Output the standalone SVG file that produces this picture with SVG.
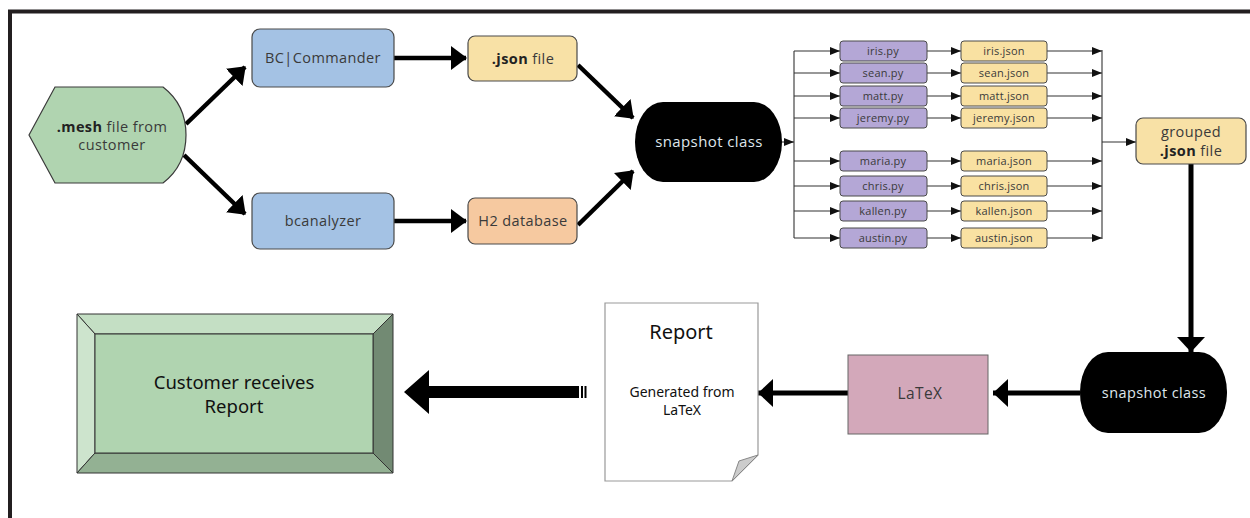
<svg xmlns="http://www.w3.org/2000/svg" width="1250" height="518" viewBox="0 0 1250 518">
<style>
  .t{font-family:"Open Sans","Liberation Sans",sans-serif;fill:#3a3a3a;text-anchor:middle;letter-spacing:0.4px}
  .n{font-family:"Noto Sans","Liberation Sans",sans-serif;fill:#111;text-anchor:middle}
  .s{font-size:11px;letter-spacing:0.2px}
  .box{stroke:#4a4a4a;stroke-width:1.2}
  .thick{stroke:#000;stroke-width:4.5;fill:none}
  .thin{stroke:#333;stroke-width:1.1;fill:none}
  .py{fill:#b4a7d6;stroke:#4a4a4a;stroke-width:1}
  .js{fill:#f9e1a2;stroke:#4a4a4a;stroke-width:1}
</style>
<defs>
  <marker id="big" markerUnits="userSpaceOnUse" markerWidth="16" markerHeight="24" refX="15" refY="12" orient="auto">
    <path d="M0,0 L16,12 L0,24 z" fill="#000"/>
  </marker>
  <marker id="wide" markerUnits="userSpaceOnUse" markerWidth="15" markerHeight="28" refX="15" refY="14" orient="auto">
    <path d="M0,0 L15,14 L0,28 z" fill="#000"/>
  </marker>
  <marker id="sm" markerUnits="userSpaceOnUse" markerWidth="10" markerHeight="8" refX="10" refY="4" orient="auto">
    <path d="M0,0 L10,4 L0,8 z" fill="#111"/>
  </marker>
</defs>
<rect width="1250" height="518" fill="#fff"/>
<path d="M10,518 V11.5 H1250" fill="none" stroke="#231f20" stroke-width="4"/>

<g id="connectors">
  <line class="thick" x1="186" y1="124" x2="245" y2="67" marker-end="url(#big)"/>
  <line class="thick" x1="184" y1="155" x2="245" y2="214" marker-end="url(#big)"/>
  <line class="thick" x1="394" y1="58" x2="466" y2="58" marker-end="url(#big)"/>
  <line class="thick" x1="394" y1="221" x2="466" y2="221" marker-end="url(#big)"/>
  <line class="thick" x1="578" y1="65" x2="633" y2="118" marker-end="url(#big)"/>
  <line class="thick" x1="578" y1="225" x2="633" y2="171" marker-end="url(#big)"/>
  <line class="thin" x1="782" y1="142" x2="794" y2="142" marker-end="url(#sm)"/>
  <line class="thin" x1="794" y1="51" x2="794" y2="238"/>
  <line class="thin" x1="794" y1="51" x2="840" y2="51" marker-end="url(#sm)"/>
  <line class="thin" x1="794" y1="73" x2="840" y2="73" marker-end="url(#sm)"/>
  <line class="thin" x1="794" y1="96" x2="840" y2="96" marker-end="url(#sm)"/>
  <line class="thin" x1="794" y1="118" x2="840" y2="118" marker-end="url(#sm)"/>
  <line class="thin" x1="794" y1="161" x2="840" y2="161" marker-end="url(#sm)"/>
  <line class="thin" x1="794" y1="186" x2="840" y2="186" marker-end="url(#sm)"/>
  <line class="thin" x1="794" y1="211" x2="840" y2="211" marker-end="url(#sm)"/>
  <line class="thin" x1="794" y1="238" x2="840" y2="238" marker-end="url(#sm)"/>
  <line class="thin" x1="927" y1="51" x2="961" y2="51" marker-end="url(#sm)"/>
  <line class="thin" x1="927" y1="73" x2="961" y2="73" marker-end="url(#sm)"/>
  <line class="thin" x1="927" y1="96" x2="961" y2="96" marker-end="url(#sm)"/>
  <line class="thin" x1="927" y1="118" x2="961" y2="118" marker-end="url(#sm)"/>
  <line class="thin" x1="927" y1="161" x2="961" y2="161" marker-end="url(#sm)"/>
  <line class="thin" x1="927" y1="186" x2="961" y2="186" marker-end="url(#sm)"/>
  <line class="thin" x1="927" y1="211" x2="961" y2="211" marker-end="url(#sm)"/>
  <line class="thin" x1="927" y1="238" x2="961" y2="238" marker-end="url(#sm)"/>
  <line class="thin" x1="1047" y1="51" x2="1102" y2="51" marker-end="url(#sm)"/>
  <line class="thin" x1="1047" y1="73" x2="1102" y2="73" marker-end="url(#sm)"/>
  <line class="thin" x1="1047" y1="96" x2="1102" y2="96" marker-end="url(#sm)"/>
  <line class="thin" x1="1047" y1="118" x2="1102" y2="118" marker-end="url(#sm)"/>
  <line class="thin" x1="1047" y1="161" x2="1102" y2="161" marker-end="url(#sm)"/>
  <line class="thin" x1="1047" y1="186" x2="1102" y2="186" marker-end="url(#sm)"/>
  <line class="thin" x1="1047" y1="211" x2="1102" y2="211" marker-end="url(#sm)"/>
  <line class="thin" x1="1047" y1="238" x2="1102" y2="238" marker-end="url(#sm)"/>
  <line class="thin" x1="1102" y1="50" x2="1102" y2="239"/>
  <line class="thin" x1="1102" y1="142" x2="1136" y2="142" marker-end="url(#sm)"/>
  <line x1="1191" y1="164" x2="1191" y2="352" stroke="#000" stroke-width="5" marker-end="url(#wide)"/>
  <line x1="1080" y1="393" x2="993" y2="393" stroke="#000" stroke-width="5" marker-end="url(#wide)"/>
  <line x1="848" y1="393" x2="758" y2="393" stroke="#000" stroke-width="5" marker-end="url(#wide)"/>
  <g id="big-arrow" fill="#000">
    <polygon points="404,392 429,370 429,386 579,386 579,398 429,398 429,414"/>
    <rect x="581" y="386" width="2" height="12"/>
    <rect x="584.5" y="386" width="2" height="12"/>
  </g>
</g>

<g id="mesh">
  <path d="M29,135 L55,87 H163 C180,100 186,118 186,135 C186,152 180,170 163,183 H55 Z" fill="#b0d4b0" stroke="#3a3a3a" stroke-width="1.2"/>
  <text class="t" x="112" y="132" font-size="14.5"><tspan font-weight="bold" fill="#222">.mesh</tspan> file from</text>
  <text class="t" x="112" y="150" font-size="14.5">customer</text>
</g>
<g id="bccommander">
  <rect class="box" x="252" y="29" width="142" height="58" rx="8" fill="#a4c2e4"/>
  <text class="t" x="323" y="63" font-size="14.5">BC|Commander</text>
</g>
<g id="bcanalyzer">
  <rect class="box" x="252" y="193" width="142" height="56" rx="8" fill="#a4c2e4"/>
  <text class="t" x="323" y="226" font-size="14.5">bcanalyzer</text>
</g>
<g id="jsonfile">
  <rect class="box" x="468" y="36" width="109" height="45" rx="7" fill="#f8e1a6"/>
  <text class="t" x="523" y="64" font-size="14.5"><tspan font-weight="bold" fill="#222">.json</tspan> file</text>
</g>
<g id="h2">
  <rect class="box" x="468" y="198" width="109" height="46" rx="7" fill="#f6c9a0"/>
  <text class="t" x="523" y="226" font-size="14.5">H2 database</text>
</g>
<g id="snapshot1">
  <rect x="635" y="102" width="147" height="80" rx="28" ry="40" fill="#000"/>
  <text class="t" x="709" y="147" font-size="15" style="fill:#dfe6ec">snapshot class</text>
</g>

<g id="py-scripts">
  <g id="iris-py"><rect class="py" x="840" y="41" width="87" height="20" rx="3"/><text class="t s" x="883" y="55">iris.py</text></g>
  <g id="sean-py"><rect class="py" x="840" y="63" width="87" height="20" rx="3"/><text class="t s" x="883" y="77">sean.py</text></g>
  <g id="matt-py"><rect class="py" x="840" y="86" width="87" height="20" rx="3"/><text class="t s" x="883" y="100">matt.py</text></g>
  <g id="jeremy-py"><rect class="py" x="840" y="108" width="87" height="20" rx="3"/><text class="t s" x="883" y="122">jeremy.py</text></g>
  <g id="maria-py"><rect class="py" x="840" y="151" width="87" height="20" rx="3"/><text class="t s" x="883" y="165">maria.py</text></g>
  <g id="chris-py"><rect class="py" x="840" y="176" width="87" height="20" rx="3"/><text class="t s" x="883" y="190">chris.py</text></g>
  <g id="kallen-py"><rect class="py" x="840" y="201" width="87" height="20" rx="3"/><text class="t s" x="883" y="215">kallen.py</text></g>
  <g id="austin-py"><rect class="py" x="840" y="228" width="87" height="20" rx="3"/><text class="t s" x="883" y="242">austin.py</text></g>
</g>
<g id="json-files">
  <g id="iris-json"><rect class="js" x="961" y="41" width="86" height="20" rx="3"/><text class="t s" x="1004" y="55">iris.json</text></g>
  <g id="sean-json"><rect class="js" x="961" y="63" width="86" height="20" rx="3"/><text class="t s" x="1004" y="77">sean.json</text></g>
  <g id="matt-json"><rect class="js" x="961" y="86" width="86" height="20" rx="3"/><text class="t s" x="1004" y="100">matt.json</text></g>
  <g id="jeremy-json"><rect class="js" x="961" y="108" width="86" height="20" rx="3"/><text class="t s" x="1004" y="122">jeremy.json</text></g>
  <g id="maria-json"><rect class="js" x="961" y="151" width="86" height="20" rx="3"/><text class="t s" x="1004" y="165">maria.json</text></g>
  <g id="chris-json"><rect class="js" x="961" y="176" width="86" height="20" rx="3"/><text class="t s" x="1004" y="190">chris.json</text></g>
  <g id="kallen-json"><rect class="js" x="961" y="201" width="86" height="20" rx="3"/><text class="t s" x="1004" y="215">kallen.json</text></g>
  <g id="austin-json"><rect class="js" x="961" y="228" width="86" height="20" rx="3"/><text class="t s" x="1004" y="242">austin.json</text></g>
</g>

<g id="grouped">
  <rect class="box" x="1136" y="118" width="110" height="46" rx="7" fill="#f8e1a6"/>
  <text class="t" x="1191" y="137" font-size="14.5">grouped</text>
  <text class="t" x="1191" y="156" font-size="14.5"><tspan font-weight="bold" fill="#222">.json</tspan> file</text>
</g>
<g id="snapshot2">
  <rect x="1080" y="352" width="147" height="81" rx="28" ry="40" fill="#000"/>
  <text class="t" x="1154" y="398" font-size="14.5" style="fill:#dfe6ec">snapshot class</text>
</g>
<g id="latex">
  <rect x="848" y="355" width="140" height="79" fill="#d3a8ba" stroke="#666" stroke-width="1"/>
  <text class="t" x="920" y="399" font-size="15.5">LaTeX</text>
</g>
<g id="report">
  <path d="M605,303 H758 V455 L732,481 H605 Z" fill="#fff" stroke="#999" stroke-width="1.2"/>
  <polygon points="758,455 732,481 739,461" fill="#ccc" stroke="#888" stroke-width="1"/>
  <text class="n" x="681" y="339" font-size="20">Report</text>
  <text class="n" x="682" y="397" font-size="14">Generated from</text>
  <text class="n" x="682" y="415" font-size="14">LaTeX</text>
</g>
<g id="customer">
  <polygon points="77,314 393,314 373,334 95,334" fill="#c4dfc4" stroke="#333" stroke-width="1"/>
  <polygon points="77,314 95,334 95,453 77,473" fill="#cde4cd" stroke="#333" stroke-width="1"/>
  <polygon points="393,314 393,473 373,453 373,334" fill="#728a73" stroke="#333" stroke-width="1"/>
  <polygon points="77,473 95,453 373,453 393,473" fill="#93b193" stroke="#333" stroke-width="1"/>
  <rect x="95" y="334" width="278" height="119" fill="#b0d4b0" stroke="#333" stroke-width="1"/>
  <text class="n" x="234" y="389" font-size="18.5">Customer receives</text>
  <text class="n" x="234" y="413" font-size="18.5">Report</text>
</g>
</svg>
